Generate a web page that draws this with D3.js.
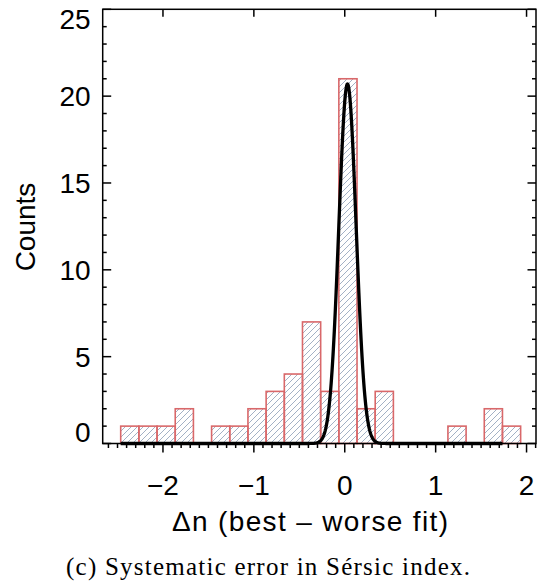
<!DOCTYPE html>
<html>
<head>
<meta charset="utf-8">
<script src="https://cdn.jsdelivr.net/npm/d3@7"></script>
<style>
    body { margin: 0; background: #fff; }
    text { font-family: 'Liberation Sans', Arial, sans-serif; fill: #000; }
</style>
</head>
<body>
<div id="chart"></div>
<script>
// histogram of delta n, bin width 0.2 starting at the smallest value
let binLeft = -2.465;
let binWidth = 0.2;
let counts = [1, 1, 1, 2, 0, 1, 1, 2, 3, 4, 7, 3, 21, 2, 3, 0, 0, 0, 1, 0, 2, 1];

// gaussian fit drawn over the histogram: amplitude, mean, sigma
let fitParams = [20.7, 0.03, 0.095];
let fitRange = [-2.465, 1.735];

let xTicks = [-2, -1, 0, 1, 2];
let xTickLabels = ['\u22122', '\u22121', '0', '1', '2'];
let yTicks = [0, 5, 10, 15, 20, 25];

let xTitle = '\u0394n (best \u2013 worse fit)';
let yTitle = 'Counts';
let caption = '(c) Systematic error in S\u00e9rsic index.';

let width = 538, height = 586;
let plot = { left: 102.7, right: 536, top: 9.3, bottom: 443.5 };

let svg = d3.select('#chart')
    .append('svg')
    .attr('width', width)
    .attr('height', height);

let xScale = d3.scaleLinear().domain([-2.663, 2.104]).range([plot.left, plot.right]);
let yScale = d3.scaleLinear().domain([0, 25]).range([plot.bottom, plot.top]);

// hatch pattern for the bars
let defs = svg.append('defs');
defs.append('pattern')
    .attr('id', 'hatch')
    .attr('patternUnits', 'userSpaceOnUse')
    .attr('width', 6)
    .attr('height', 6)
    .append('path')
    .attr('d', 'M-1,1 l2,-2 M0,6 l6,-6 M5,7 l2,-2')
    .attr('stroke', '#98a8be')
    .attr('stroke-width', 0.9);

let bars = counts.map(function(c, i) {
    return { x0: binLeft + i * binWidth, x1: binLeft + (i + 1) * binWidth, count: c };
}).filter(function(d) { return d.count > 0; });

svg.selectAll('.bar')
    .data(bars)
    .enter().append('rect')
    .attr('class', 'bar')
    .attr('x', function(d) { return xScale(d.x0); })
    .attr('y', function(d) { return yScale(d.count); })
    .attr('width', function(d) { return xScale(d.x1) - xScale(d.x0); })
    .attr('height', function(d) { return yScale(0) - yScale(d.count); })
    .attr('fill', 'url(#hatch)')
    .attr('stroke', '#d9686a')
    .attr('stroke-width', 1.6);

// fit curve
let fitPoints = d3.range(fitRange[0], fitRange[1] + 1e-9, 0.005).map(function(x) {
    let z = (x - fitParams[1]) / fitParams[2];
    return [x, fitParams[0] * Math.exp(-0.5 * z * z)];
});

svg.append('path')
    .datum(fitPoints)
    .attr('fill', 'none')
    .attr('stroke', '#000')
    .attr('stroke-width', 3.3)
    .attr('stroke-linejoin', 'round')
    .attr('d', d3.line()
        .x(function(d) { return xScale(d[0]); })
        .y(function(d) { return yScale(d[1]); }));

// frame
svg.append('rect')
    .attr('x', plot.left)
    .attr('y', plot.top)
    .attr('width', plot.right - plot.left)
    .attr('height', plot.bottom - plot.top)
    .attr('fill', 'none')
    .attr('stroke', '#000')
    .attr('stroke-width', 1.5);

// ticks
let xMinor = d3.range(-26, 22).map(function(v) { return v / 10; })
    .filter(function(v) { return Math.abs(v - Math.round(v)) > 1e-6; });
let yMinor = d3.range(0, 26).filter(function(v) { return v % 5 !== 0; });

let ticks = svg.append('g')
    .attr('stroke', '#000')
    .attr('stroke-width', 1.5);

// bottom: outward, top: major only
xTicks.forEach(function(v) {
    ticks.append('line').attr('x1', xScale(v)).attr('x2', xScale(v))
        .attr('y1', plot.bottom).attr('y2', plot.bottom + 9);
    ticks.append('line').attr('x1', xScale(v)).attr('x2', xScale(v))
        .attr('y1', plot.top).attr('y2', plot.top + 7.5);
});
xMinor.forEach(function(v) {
    ticks.append('line').attr('x1', xScale(v)).attr('x2', xScale(v))
        .attr('y1', plot.bottom).attr('y2', plot.bottom + 4.5);
});

// left and right: inward
yTicks.forEach(function(v) {
    ticks.append('line').attr('y1', yScale(v)).attr('y2', yScale(v))
        .attr('x1', plot.left).attr('x2', plot.left + 8.5);
    ticks.append('line').attr('y1', yScale(v)).attr('y2', yScale(v))
        .attr('x1', plot.right).attr('x2', plot.right - 8.5);
});
yMinor.forEach(function(v) {
    ticks.append('line').attr('y1', yScale(v)).attr('y2', yScale(v))
        .attr('x1', plot.left).attr('x2', plot.left + 4);
    ticks.append('line').attr('y1', yScale(v)).attr('y2', yScale(v))
        .attr('x1', plot.right).attr('x2', plot.right - 4);
});

// tick labels
svg.selectAll('.xlabel')
    .data(xTicks)
    .enter().append('text')
    .attr('class', 'xlabel')
    .attr('x', function(d) { return xScale(d); })
    .attr('y', 495)
    .attr('text-anchor', 'middle')
    .style('font-size', '28px')
    .text(function(d, i) { return xTickLabels[i]; });

svg.selectAll('.ylabel')
    .data(yTicks)
    .enter().append('text')
    .attr('class', 'ylabel')
    .attr('x', plot.left - 12)
    .attr('y', function(d) {
        // end labels are pulled inside the frame
        let shift = d === 0 ? -12 : (d === 25 ? 10 : 0);
        return yScale(d) + shift + 10;
    })
    .attr('text-anchor', 'end')
    .style('font-size', '28px')
    .text(function(d) { return d; });

// axis titles
svg.append('text')
    .attr('x', 310)
    .attr('y', 531)
    .attr('text-anchor', 'middle')
    .attr('textLength', 276)
    .attr('lengthAdjust', 'spacing')
    .style('font-size', '28px')
    .text(xTitle);

svg.append('text')
    .attr('transform', 'translate(35,227) rotate(-90)')
    .attr('text-anchor', 'middle')
    .style('font-size', '28px')
    .text(yTitle);

// caption
svg.append('text')
    .attr('x', 268)
    .attr('y', 575)
    .attr('text-anchor', 'middle')
    .attr('textLength', 404)
    .attr('lengthAdjust', 'spacing')
    .style('font-family', "'Liberation Serif', 'Times New Roman', serif")
    .style('font-size', '25px')
    .text(caption);
</script>
</body>
</html>
